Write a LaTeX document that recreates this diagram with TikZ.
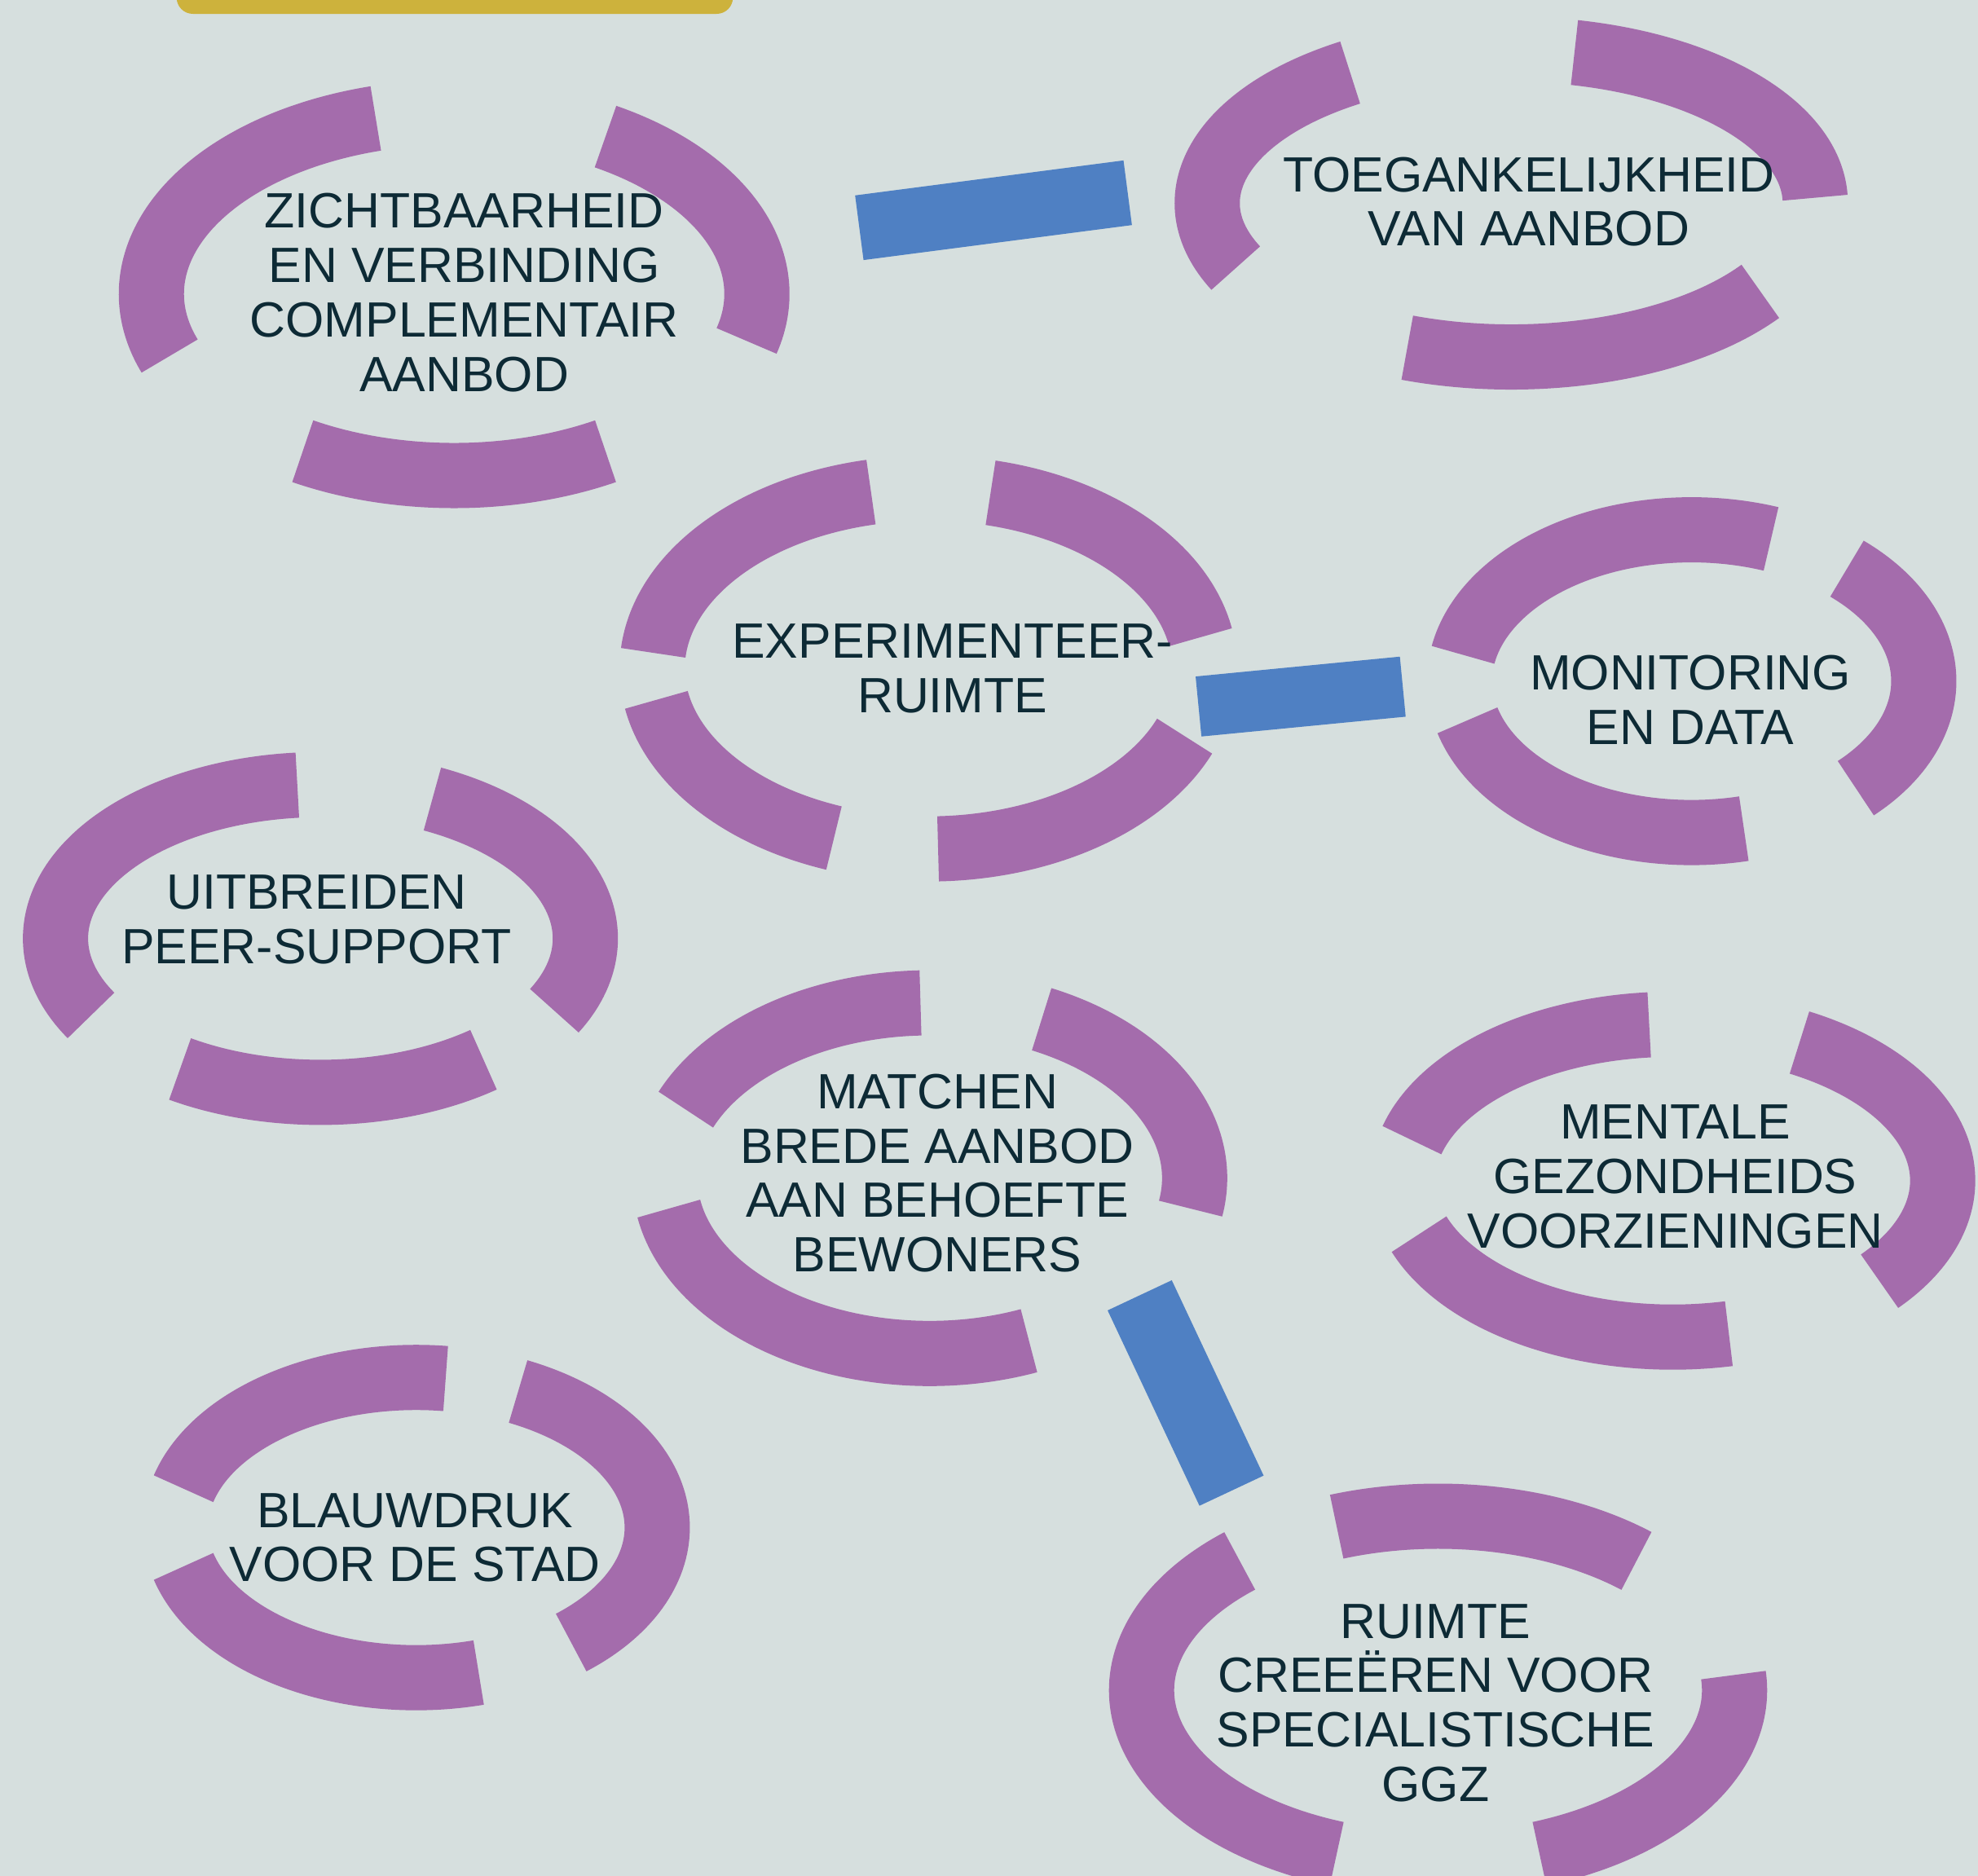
\documentclass[tikz,border=0pt]{standalone}
\usepackage{fontspec}
\setmainfont{Liberation Sans}
\usetikzlibrary{shapes.geometric}

\definecolor{bgcol}{HTML}{D6DFDE}
\definecolor{brushcol}{HTML}{A46CAC}
\definecolor{linkcol}{HTML}{4F80C3}
\definecolor{barcol}{HTML}{CDB23C}
\definecolor{inkcol}{HTML}{0D2A35}
\newcommand{\px}{0.15482mm}

\tikzset{
	hub/.style 2 args={ellipse, inner sep=0pt, outer sep=0pt, minimum width=2*#1*\px, minimum height=2*#2*\px},
	brush/.style={draw=brushcol, line width=8mm},
	link/.style={draw=linkcol, line width=8mm},
	theme/.style={text=inkcol, align=center, font=\fontsize{17.3}{19}\selectfont},
}

\begin{document}
\begin{tikzpicture}[x=0.15482mm, y=-0.15482mm]
		\fill[bgcol] (0,0) rectangle (1568,1487);
		\useasboundingbox (0,0) rectangle (1568,1487);
		\fill[barcol, rounded corners=2mm] (140,-30) rectangle (581,11);
		
		% rings
		\node[hub={240}{144}] (zicht) at (360,233) {};
		\node[hub={241}{122}] (toeg) at (1198,161) {};
		\node[hub={219}{143}] (exper) at (736,530) {};
		\node[hub={184}{120}] (monit) at (1341,540) {};
		\node[hub={210}{122}] (peer) at (254,744) {};
		\node[hub={210}{139}] (match) at (737,934) {};
		\node[hub={214}{124}] (ggz) at (1326,936) {};
		\node[hub={191}{119}] (stad) at (330,1211) {};
		\node[hub={235}{138}] (ruimte) at (1140,1340) {};
		
		\foreach \n/\rx/\ry/\segs in {
			zicht/240/144/{160/255,300/375,60/120},
			toeg/241/122/{155/238,282/358,35/110},
			exper/219/143/{185/258,283/350,110/170,22/88},
			monit/184/120/{190/290,312/405,77/165},
			peer/210/122/{150/265,295/388,52/122},
			match/210/139/{203/268,295/370,68/170},
			ggz/214/124/{195/265,298/400,78/160},
			stad/191/119/{195/277,295/410,75/165},
			ruimte/235/138/{250/312,110/228,-5/70}}
		\foreach \a/\b in \segs
			\draw[brush] (\n.center) ++(\a:{\rx} and {\ry}) arc[start angle=\a, end angle=\b, x radius=\rx, y radius=\ry];
		
		% labels
		\node[theme] (zicht-t) at (368,232) {ZICHTBAARHEID\\EN VERBINDING\\COMPLEMENTAIR\\AANBOD};
		\node[theme] (toeg-t) at (1212,160) {TOEGANKELIJKHEID\\VAN AANBOD};
		\node[theme] (exper-t) at (755,530) {EXPERIMENTEER-\\RUIMTE};
		\node[theme] (monit-t) at (1340,555) {MONITORING\\EN DATA};
		\node[theme] (peer-t) at (251,729) {UITBREIDEN\\PEER-SUPPORT};
		\node[theme] (match-t) at (743,930) {MATCHEN\\BREDE AANBOD\\AAN BEHOEFTE\\BEWONERS};
		\node[theme] (ggz-t) at (1328,933) {MENTALE\\GEZONDHEIDS\\VOORZIENINGEN};
		\node[theme] (stad-t) at (329,1219) {BLAUWDRUK\\VOOR DE STAD};
		\node[theme] (ruimte-t) at (1138,1350) {RUIMTE\\CREEËREN VOOR\\SPECIALISTISCHE\\GGZ};
		
		% links
		\draw[link, shorten <=14.2mm, shorten >=10.2mm] (zicht.10.5) -- (toeg.176.7);
		\draw[link, line width=7.4mm, shorten >=7mm] (exper.352) -- (monit.180);
		\draw[link, line width=8.7mm, shorten <=1mm, shorten >=8.2mm] (match.332.7) -- (ruimte.142.2);
\end{tikzpicture}
\end{document}
